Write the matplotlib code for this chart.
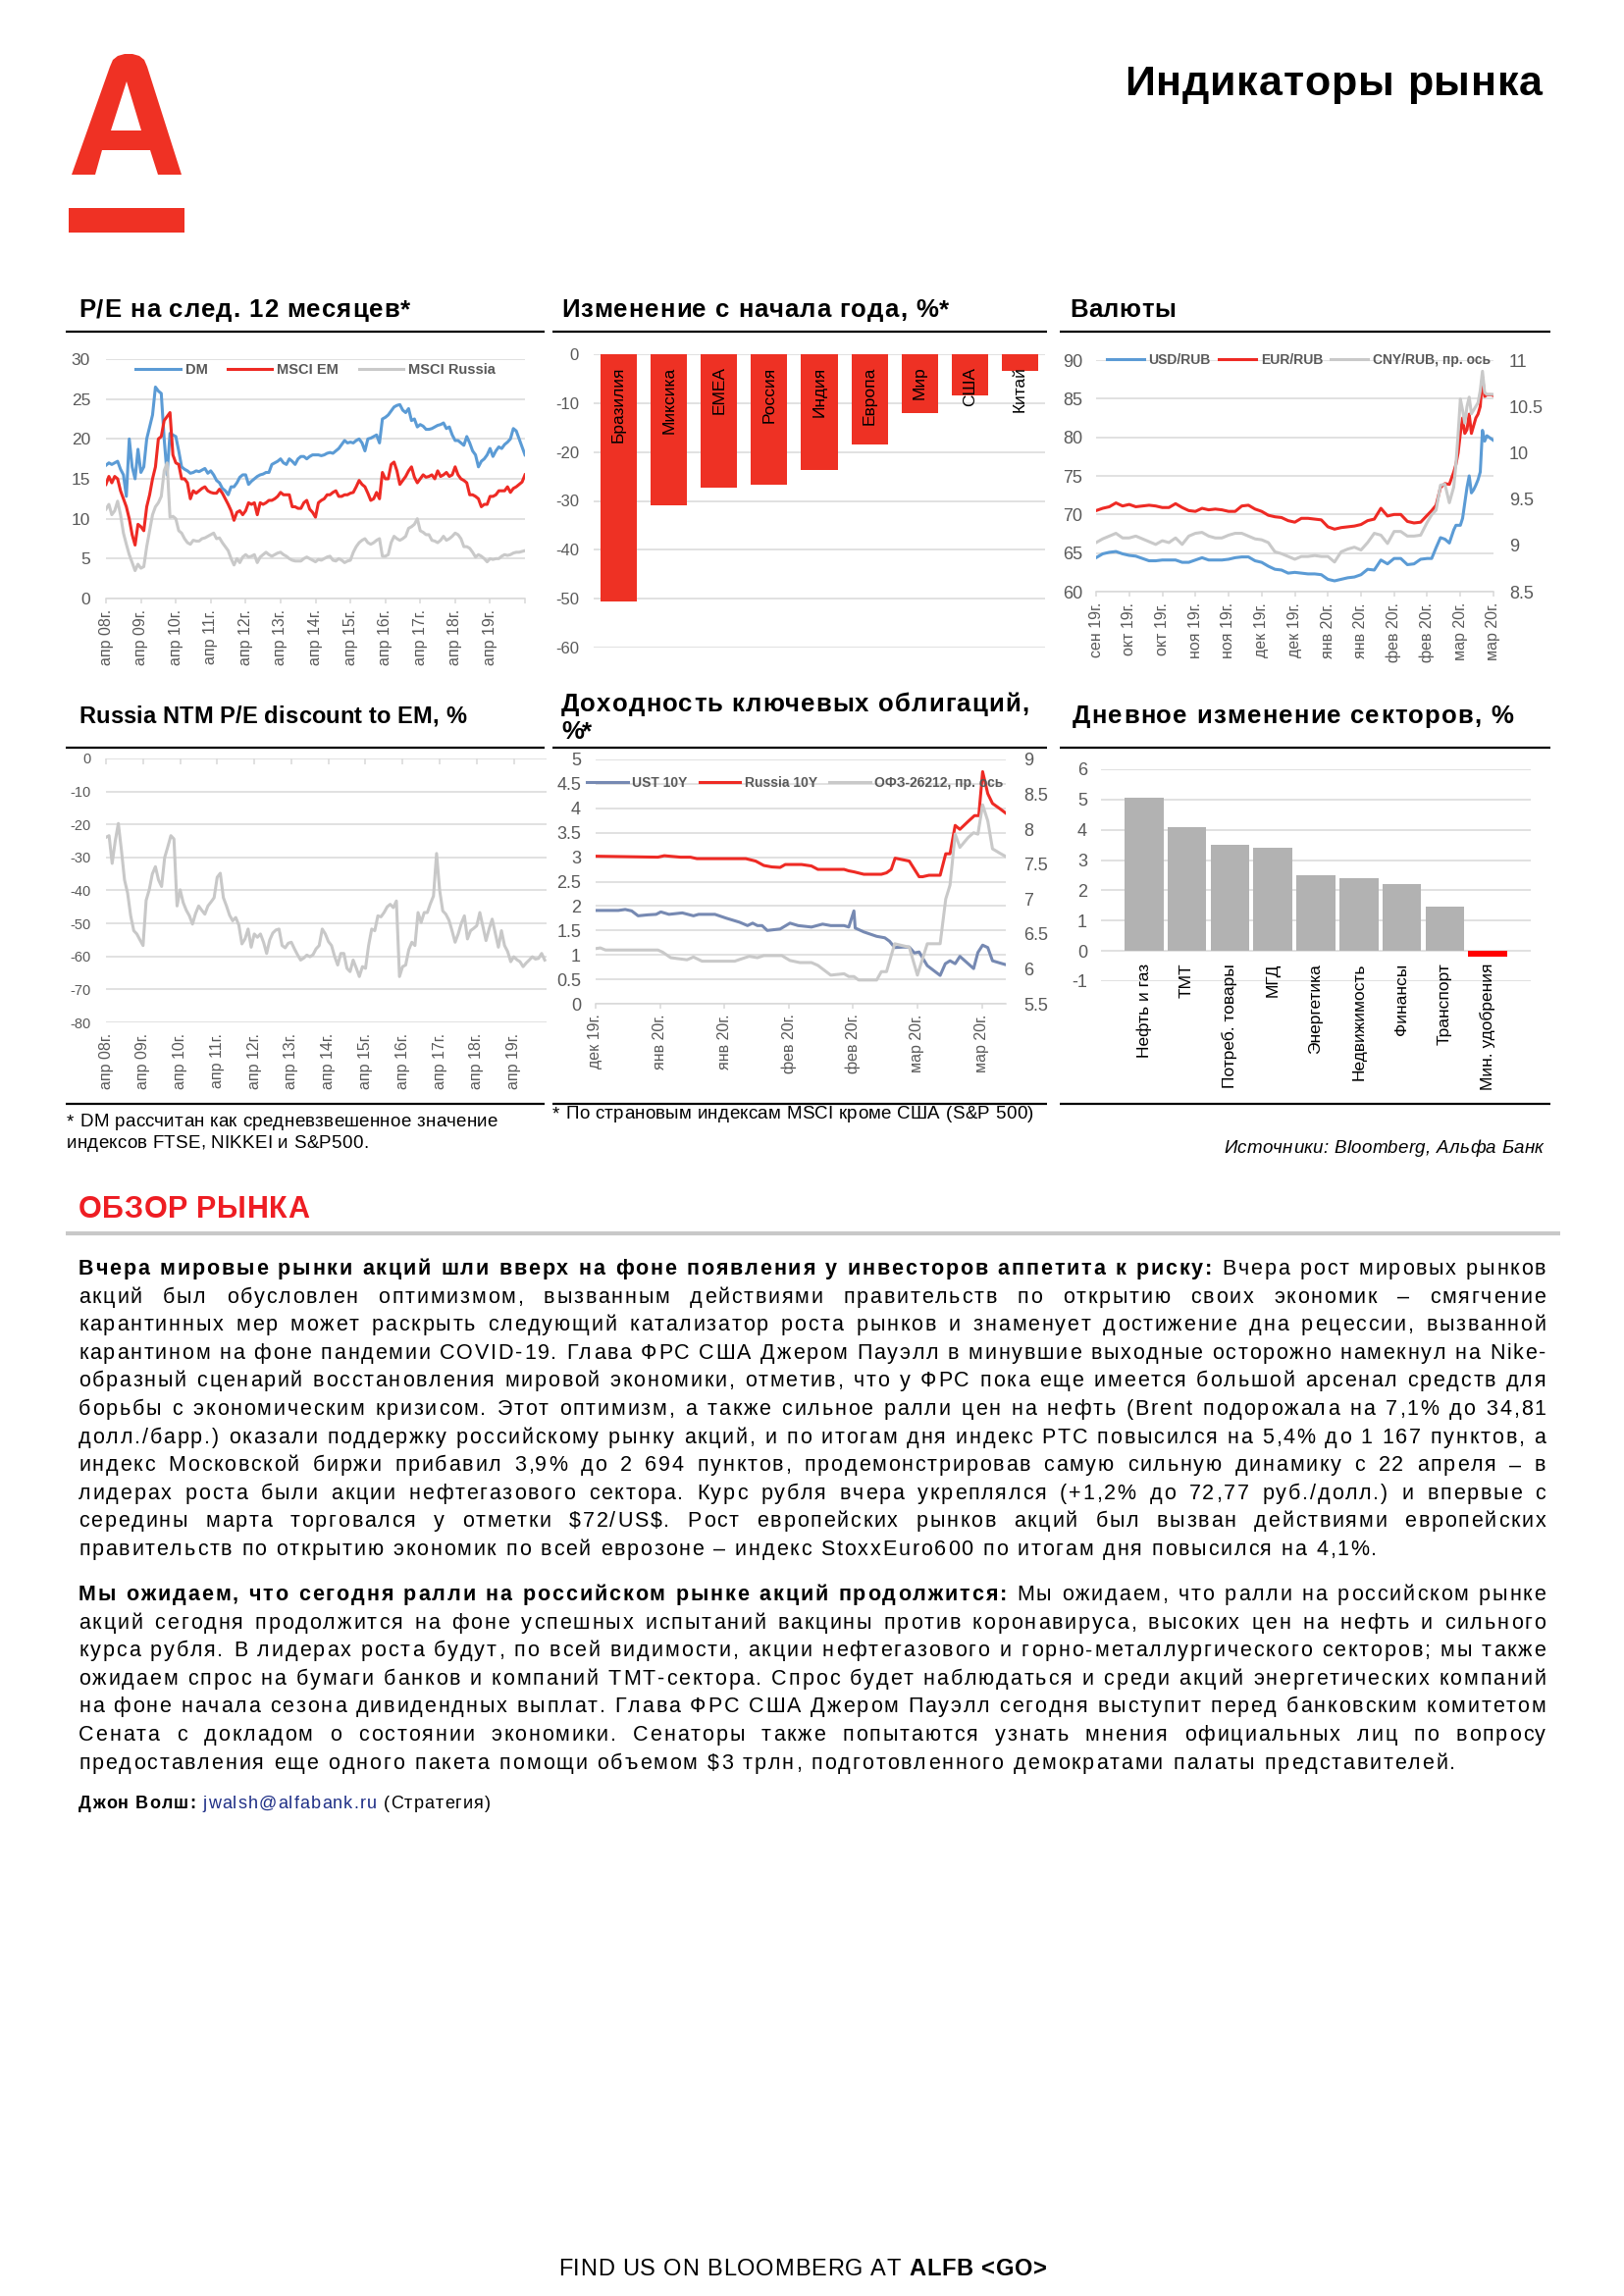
import numpy as np
import matplotlib
matplotlib.use('Agg')
import matplotlib.pyplot as plt
from matplotlib.font_manager import FontProperties
from matplotlib.lines import Line2D
from matplotlib.patches import Polygon, Rectangle
from matplotlib.ticker import FuncFormatter

plt.rcParams['font.family'] = ['Liberation Sans', 'DejaVu Sans']
plt.rcParams['axes.unicode_minus'] = False

# ---------------------------------------------------------------- data
PE_XLABELS = ['апр 08г.', 'апр 09г.', 'апр 10г.', 'апр 11г.', 'апр 12г.', 'апр 13г.',
              'апр 14г.', 'апр 15г.', 'апр 16г.', 'апр 17г.', 'апр 18г.', 'апр 19г.']
PE_DM = [16.7, 17.0, 16.8, 17.0, 17.2, 16.2, 15.5, 12.8, 20.0, 16.5, 15.0, 18.7,
         15.8, 16.5, 20.0, 21.5, 23.0, 26.5, 26.0, 25.7, 20.0, 15.5, 20.7, 20.5,
         20.3, 18.5, 16.5, 16.2, 16.0, 15.7, 15.8, 16.0, 15.9, 16.1, 16.3, 15.7,
         16.0, 15.5, 14.8, 14.5, 13.8, 13.5, 13.0, 14.0, 14.0, 14.5, 15.2, 15.5,
         15.5, 14.3, 14.7, 15.0, 15.3, 15.5, 15.6, 15.8, 15.8, 16.8, 17.0, 17.2,
         17.5, 17.0, 16.8, 17.5, 17.2, 16.8, 17.5, 17.8, 17.8, 17.5, 17.8, 18.0,
         18.0, 18.0, 17.9, 18.0, 18.2, 18.3, 18.2, 18.5, 18.8, 19.3, 19.8, 19.5,
         19.6, 19.5, 19.8, 20.0, 19.5, 18.5, 20.0, 20.1, 20.3, 20.5, 19.5, 22.5,
         22.7, 23.0, 23.5, 24.0, 24.2, 24.3, 23.6, 23.3, 23.8, 22.3, 22.5, 21.5,
         21.8, 21.6, 21.2, 21.2, 21.3, 21.5, 21.7, 21.8, 22.0, 21.3, 21.5, 20.5,
         19.8, 19.8, 19.5, 19.2, 20.3, 19.5, 18.5, 18.0, 16.5, 17.2, 17.5, 18.0,
         18.8, 17.8, 18.5, 19.0, 18.8, 19.3, 19.6, 20.0, 21.3, 21.0, 20.0, 19.0, 18.0]
PE_EM = [14.3, 15.3, 14.5, 15.3, 15.0, 13.5, 12.5, 11.5, 10.0, 8.0, 6.7, 9.3,
         9.0, 8.5, 11.5, 13.0, 15.0, 16.5, 20.0, 20.3, 22.3, 22.8, 23.3, 18.0,
         17.0, 16.8, 15.0, 15.0, 14.5, 12.5, 13.5, 13.2, 13.5, 13.8, 14.0, 13.5,
         13.3, 13.2, 13.2, 13.7, 13.2, 12.5, 11.8, 11.0, 9.8, 10.8, 11.0, 10.5,
         11.0, 12.0, 11.8, 12.0, 10.5, 12.0, 11.8, 12.0, 12.3, 12.3, 12.5, 12.8,
         13.3, 13.0, 13.0, 13.0, 11.5, 11.5, 11.3, 11.3, 12.0, 12.3, 11.2, 10.8,
         10.2, 12.0, 12.3, 12.5, 13.0, 13.0, 13.3, 13.5, 12.8, 12.8, 13.0, 13.0,
         13.2, 13.3, 14.0, 14.8, 14.3, 14.0, 13.2, 12.3, 12.5, 13.3, 12.5, 15.8,
         15.0, 15.0, 16.8, 17.1, 16.0, 14.3, 14.8, 15.3, 16.0, 16.5, 15.2, 14.5,
         15.0, 15.5, 15.2, 15.3, 15.5, 15.0, 16.0, 15.3, 15.5, 15.8, 15.3, 15.5,
         16.5, 15.5, 15.0, 14.8, 14.5, 13.0, 13.0, 12.8, 12.5, 11.5, 11.8, 11.8,
         12.8, 12.8, 13.0, 13.5, 13.5, 13.5, 14.0, 13.3, 13.8, 14.0, 14.3, 14.6, 15.5]
PE_RU = [11.2, 11.8, 10.5, 11.0, 12.2, 10.5, 8.2, 6.8, 5.5, 4.5, 3.5, 4.3,
         3.8, 4.0, 6.5, 8.5, 10.5, 11.5, 12.0, 12.8, 16.0, 17.0, 10.2, 10.3,
         10.0, 8.5, 8.2, 7.5, 7.0, 6.8, 7.3, 7.2, 7.2, 7.5, 7.6, 7.8,
         8.0, 8.2, 7.5, 7.6, 7.0, 6.5, 6.0, 5.0, 4.2, 5.0, 4.5, 5.2,
         5.5, 5.2, 5.3, 5.5, 4.5, 5.2, 5.5, 5.8, 5.5, 5.3, 5.5, 5.7,
         5.8, 5.5, 5.3, 5.0, 4.8, 4.7, 4.7, 4.7, 5.0, 5.2, 5.0, 4.8,
         4.6, 4.9, 4.8, 5.0, 5.2, 5.3, 4.8, 4.7, 5.0, 4.8, 4.5, 4.7,
         4.8, 5.8, 6.5, 7.0, 7.3, 7.5, 7.0, 6.8, 7.0, 7.3, 7.5, 5.3,
         5.3, 5.5, 7.0, 7.8, 7.5, 7.3, 7.5, 7.8, 8.8, 9.0, 9.3, 10.0,
         8.5, 8.3, 8.0, 8.0, 7.3, 7.2, 7.0, 7.3, 7.8, 7.3, 7.5, 7.8,
         8.2, 8.0, 7.5, 6.5, 6.5, 6.3, 5.8, 5.2, 5.5, 5.3, 5.0, 4.6,
         5.0, 4.9, 5.0, 5.0, 5.3, 5.5, 5.4, 5.5, 5.7, 5.8, 5.8, 5.9, 6.0]

DISC = [-23.9, -23.4, -31.8, -25.0, -19.7, -27.8, -36.8, -40.8, -47.7, -52.2, -53.2, -55.0,
        -56.7, -43.0, -39.8, -35.0, -32.8, -36.8, -38.8, -30.0, -26.8, -23.4, -24.4, -44.7,
        -39.8, -43.7, -46.0, -47.7, -50.2, -47.0, -44.7, -46.0, -47.2, -44.7, -43.5, -42.2,
        -36.0, -34.8, -42.2, -44.7, -47.5, -49.2, -48.2, -50.5, -56.2, -54.7, -51.7, -57.2,
        -53.2, -54.2, -53.2, -55.7, -59.1, -55.0, -52.9, -52.0, -51.7, -56.7, -57.4, -56.0,
        -55.7, -57.7, -59.5, -61.1, -60.5, -59.6, -60.1, -59.5, -57.7, -56.7, -51.7, -53.2,
        -55.5, -56.7, -60.0, -62.6, -59.1, -59.1, -63.6, -64.6, -61.1, -63.5, -66.1, -63.1,
        -63.6, -56.7, -51.7, -52.2, -47.7, -48.0, -46.7, -45.0, -44.2, -45.2, -43.2, -66.1,
        -63.1, -62.6, -58.0, -55.7, -56.7, -46.7, -49.7, -46.7, -46.7, -44.0, -41.7, -28.8,
        -40.0, -46.2, -47.2, -49.0, -52.2, -55.7, -53.2, -50.0, -47.7, -54.7, -52.2, -51.5,
        -50.7, -46.7, -51.0, -55.2, -51.7, -48.7, -53.0, -57.2, -52.2, -56.7, -58.5, -61.6,
        -60.1, -61.0, -61.6, -63.1, -62.0, -61.1, -60.1, -60.8, -60.6, -59.1, -61.1]

YTD_CATS = ['Бразилия', 'Миксика', 'EMEA', 'Россия', 'Индия', 'Европа', 'Мир', 'США', 'Китай']
YTD_VALS = [-50.5, -31.0, -27.3, -26.6, -23.7, -18.5, -12.1, -8.4, -3.5]

FX_XLABELS = ['сен 19г.', 'окт 19г.', 'окт 19г.', 'ноя 19г.', 'ноя 19г.', 'дек 19г.', 'дек 19г.',
              'янв 20г.', 'янв 20г.', 'фев 20г.', 'фев 20г.', 'мар 20г.', 'мар 20г.']
FX_DAYS = [0, 3, 6, 9, 12, 15, 18, 21, 24, 27, 30, 33, 36, 39, 42, 45, 48, 51, 54, 57, 60,
           63, 66, 69, 72, 75, 78, 81, 84, 87, 90, 93, 96, 99, 102, 105, 108, 111, 114, 117,
           120, 123, 126, 129, 132, 135, 138, 141, 144, 147, 150,
           152, 154, 156, 158, 160, 162,
           163, 164, 165, 166, 167, 168, 169, 170, 171, 172, 173, 174, 175, 176, 177, 178, 179, 180]
USD_RUB = [64.4, 64.9, 65.1, 65.2, 64.9, 64.7, 64.6, 64.3, 64.0, 64.0, 64.1,
           64.1, 64.1, 63.8, 63.8, 64.1, 64.4, 64.1, 64.1, 64.1, 64.2, 64.4,
           64.5, 64.5, 64.0, 63.8, 63.3, 62.9, 62.8, 62.4, 62.5, 62.4, 62.3,
           62.3, 62.2, 61.6, 61.4, 61.6, 61.8, 61.9, 62.2, 62.9, 62.8, 64.1,
           63.6, 64.3, 64.3, 63.5, 63.6, 64.2, 64.3,
           64.3, 65.7, 67.0, 66.8, 66.3, 68.0,
           68.6, 68.6, 68.6, 69.5, 71.5, 73.5, 75.0, 72.8, 73.2, 73.8, 74.5, 75.5,
           80.9, 79.5, 80.2, 80.0, 79.8, 79.6]
EUR_RUB = [70.5, 70.8, 71.0, 71.5, 71.1, 71.3, 71.0, 71.1, 71.2, 71.1, 70.9,
           70.9, 71.4, 70.9, 70.5, 70.4, 70.8, 70.6, 70.7, 70.6, 70.4, 70.4,
           71.1, 71.2, 70.7, 70.4, 69.9, 69.7, 69.6, 69.2, 69.0, 69.5, 69.5,
           69.4, 69.3, 68.4, 68.1, 68.3, 68.4, 68.5, 68.7, 69.2, 69.4, 70.8,
           69.8, 70.0, 70.0, 69.1, 68.9, 69.0, 69.9,
           70.5, 71.2, 73.5, 74.0, 73.9, 75.5,
           76.5, 78.0, 80.5, 82.5, 80.5, 81.0, 83.0, 80.5, 81.5, 82.5, 83.0, 84.0,
           87.8, 85.3, 85.5, 85.5, 85.5, 85.4]
CNY_RUB = [9.03, 9.07, 9.10, 9.13, 9.08, 9.08, 9.10, 9.07, 9.04, 9.01, 9.05,
           9.03, 9.08, 9.01, 9.10, 9.13, 9.14, 9.10, 9.08, 9.08, 9.11, 9.13,
           9.13, 9.10, 9.07, 9.06, 9.03, 8.93, 8.91, 8.88, 8.85, 8.88, 8.88,
           8.89, 8.88, 8.88, 8.82, 8.93, 8.96, 8.98, 8.95, 9.03, 9.13, 9.11,
           9.02, 9.15, 9.15, 9.10, 9.10, 9.11, 9.25,
           9.33, 9.38, 9.65, 9.66, 9.46, 9.63,
           9.88, 10.21, 10.58, 10.46, 10.32, 10.50, 10.60, 10.42, 10.46, 10.50, 10.54, 10.67,
           10.88, 10.65, 10.63, 10.63, 10.63, 10.63]

BOND_XLABELS = ['дек 19г.', 'янв 20г.', 'янв 20г.', 'фев 20г.', 'фев 20г.', 'мар 20г.', 'мар 20г.']
RU10_DAYS = [0, 14.5, 16, 19.8, 22.1, 23.6, 35, 37.3, 39.2, 41.1, 43, 44.2, 48, 50.3, 51.8,
             57.9, 59, 60.2, 62.5, 66.6, 67.8, 68.9, 69.8, 73.1, 75.4, 76.2, 77.7, 80.3,
             81.6, 82.6, 83.8, 84.9, 86.8, 88.3, 89.3, 90.2, 91.4, 92.5, 94.4, 95.6]
RU10_VALS = [3.02, 3.0, 3.03, 3.0, 3.0, 2.97, 2.97, 2.92, 2.83, 2.80, 2.79, 2.85, 2.85, 2.82, 2.75,
             2.75, 2.72, 2.70, 2.65, 2.65, 2.68, 2.75, 2.98, 2.92, 2.60, 2.60, 2.63, 2.63,
             3.07, 3.07, 3.65, 3.57, 3.73, 3.85, 3.85, 4.75, 4.30, 4.10, 3.98, 3.90]
UST_DAYS = [0, 5.3, 6.9, 8.4, 9.9, 12.2, 14.1, 15.2, 17.1, 20.2, 22.8, 24, 27.8, 30.5, 33.5,
            35.4, 36.6, 37.7, 38.8, 40, 43, 45.3, 47.2, 50.3, 52.9, 54.8, 57.9, 59, 60.2,
            60.5, 62.5, 65.5, 67.4, 68.5, 69.7, 71.6, 73.1, 74.3, 75.4, 77.3, 80.3, 81.5,
            82.6, 83.8, 84.9, 88.1, 89.1, 90.2, 91.4, 92.5, 94.4, 95.6]
UST_VALS = [1.91, 1.91, 1.93, 1.90, 1.80, 1.82, 1.83, 1.88, 1.83, 1.86, 1.80, 1.83, 1.83, 1.75, 1.67,
            1.60, 1.65, 1.60, 1.60, 1.50, 1.53, 1.65, 1.60, 1.57, 1.63, 1.60, 1.60, 1.57, 1.90,
            1.55, 1.47, 1.38, 1.35, 1.28, 1.15, 1.16, 1.16, 1.04, 1.06, 0.78, 0.58, 0.82,
            0.88, 0.82, 0.97, 0.72, 1.05, 1.20, 1.15, 0.88, 0.83, 0.80]
OFZ_DAYS = [0, 1.1, 2.3, 14.5, 15.6, 17.5, 21.3, 22.8, 24.8, 32.4, 35.8, 37.7, 39.2, 43.4, 45.3,
            47.6, 50.3, 51.8, 54.8, 57.9, 59, 60.2, 61.3, 65.5, 66.6, 67.8, 69.7, 73.1, 75,
            77.3, 80.3, 81.6, 82.6, 83.8, 84.9, 86.8, 88.1, 89.1, 90.2, 91.4, 92.5, 94.4, 95.6]
OFZ_VALS = [6.29, 6.30, 6.27, 6.27, 6.24, 6.16, 6.13, 6.17, 6.11, 6.11, 6.18, 6.16, 6.19, 6.19, 6.12,
            6.09, 6.09, 6.05, 5.91, 5.93, 5.89, 5.89, 5.84, 5.84, 5.96, 5.96, 6.36, 6.31, 5.91,
            6.36, 6.36, 7.00, 7.20, 7.93, 7.74, 7.88, 7.95, 7.93, 8.35, 8.12, 7.72, 7.65, 7.61]

SECT_CATS = ['Нефть и газ', 'ТМТ', 'Потреб. товары', 'МГД', 'Энергетика', 'Недвижимость',
             'Финансы', 'Транспорт', 'Мин. удобрения']
SECT_VALS = [5.05, 4.1, 3.52, 3.42, 2.5, 2.4, 2.2, 1.45, -0.2]

# ---------------------------------------------------------------- style
W, H, DPI = 1655, 2340, 100
GRID = '#D9D9D9'
TICK = '#595959'
LRED = '#EE2A24'
BARRED = '#EE3124'
BLUE = '#5B9BD5'
LGRAY = '#C9C9C9'
UST = '#7689B2'
SGRAY = '#B2B2B2'
LOGO = '#EF3124'
FAM = ['Liberation Sans', 'DejaVu Sans']


def FP(size, weight='normal', style='normal'):
    return FontProperties(family=FAM, size=size, weight=weight, style=style)


fig = plt.figure(figsize=(W / DPI, H / DPI), dpi=DPI)
deco = fig.add_axes([0, 0, 1, 1])
deco.set_xlim(0, W)
deco.set_ylim(H, 0)
deco.axis('off')
RENDERER = fig.canvas.get_renderer()


def px_axes(x0, y0, x1, y1):
    ax = fig.add_axes([x0 / W, 1 - y1 / H, (x1 - x0) / W, (y1 - y0) / H])
    ax.set_facecolor('none')
    return ax


def base_style(ax, ysize, ypad_px):
    for s in ax.spines.values():
        s.set_visible(False)
    ax.grid(axis='y', color=GRID, lw=1.1)
    ax.set_axisbelow(True)
    ax.tick_params(axis='y', length=0, pad=ypad_px / 1.389, labelsize=ysize, labelcolor=TICK)


def bottom_axis(ax, pad=4.5):
    ax.spines['bottom'].set_visible(True)
    ax.spines['bottom'].set_color(GRID)
    ax.spines['bottom'].set_linewidth(1.1)
    ax.tick_params(axis='x', length=3.5, width=1.1, color=GRID, pad=pad, labelsize=11.5,
                   labelcolor=TICK, labelrotation=90)


gfmt = FuncFormatter(lambda v, p: f'{v:g}')
LEGFP = FP(10.5, 'bold')

# ---------------------------------------------------------------- text helpers
_adv = {}


def adv(ch, fp):
    key = (ch, str(fp.get_weight()), fp.get_style(), fp.get_size_in_points())
    if key not in _adv:
        a = RENDERER.get_text_width_height_descent('|' + ch + '|', fp, False)[0]
        b = RENDERER.get_text_width_height_descent('||', fp, False)[0]
        _adv[key] = a - b
    return _adv[key]


def expand(segs):
    out = []
    for seg in segs:
        text, fp = seg[0], seg[1]
        col = seg[2] if len(seg) > 2 else 'black'
        for ch in text:
            out.append((ch, fp, col))
    return out


def natural(chars):
    return sum(adv(c, fp) for c, fp, col in chars)


def draw_run(chars, x, y, track, space_extra=0.0):
    for c, fp, col in chars:
        if c != ' ':
            deco.text(x, y, c, fontproperties=fp, color=col, ha='left', va='baseline',
                      parse_math=False)
        x += adv(c, fp) + track + (space_extra if c == ' ' else 0.0)
    return x


def fit_text(segs, x0, x1, y):
    chars = expand(segs)
    nat = natural(chars)
    track = (x1 - x0 - nat) / max(len(chars) - 1, 1)
    draw_run(chars, x0, y, track)


def paragraph(lines, x0, x1, y0, lh, last_x1):
    rows = [expand(l) for l in lines]
    nats = [natural(r) for r in rows]
    T = min((x1 - x0 - n) / len(r) for r, n in zip(rows[:-1], nats[:-1]))
    for i, (r, n) in enumerate(zip(rows, nats)):
        target = (x1 if i < len(rows) - 1 else last_x1) - x0
        nsp = sum(1 for c in r if c[0] == ' ')
        extra = (target - n - T * len(r)) / max(nsp, 1)
        draw_run(r, x0, y0 + i * lh, T, extra)


# ---------------------------------------------------------------- header
A_OUT = [(73, 178), (112, 68), (115, 61), (120, 57), (127, 55), (135, 55), (142, 57),
         (147, 61), (150, 68), (185, 178), (161, 178), (153, 153), (104, 153), (97, 178)]
A_IN = [(129, 83), (144, 133), (113, 133)]
deco.add_patch(Polygon(A_OUT, closed=True, fc=LOGO, ec='none'))
deco.add_patch(Polygon(A_IN, closed=True, fc='white', ec='none'))
deco.add_patch(Rectangle((70, 212), 118, 25, fc=LOGO, ec='none'))
fit_text([('Индикаторы рынка', FP(31, 'bold'))], 1146, 1572, 97)

# section titles and rules
TFP = FP(18.5, 'bold')
fit_text([('P/E на след. 12 месяцев*', TFP)], 80, 418, 323)
fit_text([('Изменение с начала года, %*', TFP)], 572, 967, 323)
fit_text([('Валюты', TFP)], 1090, 1198, 323)
fit_text([('Russia NTM P/E discount to EM, %', FP(17, 'bold'))], 80, 475, 737)
fit_text([('Доходность ключевых облигаций,', TFP)], 572, 1048, 725)
fit_text([('%*', TFP)], 572, 603, 753)
fit_text([('Дневное изменение секторов, %', TFP)], 1093, 1542, 737)

for yy in (338, 762, 1125):
    for xa, xb in ((67, 555), (563, 1067), (1080, 1580)):
        deco.plot([xa, xb], [yy, yy], color='black', lw=1.6, solid_capstyle='butt')

fit_text([('* DM рассчитан как средневзвешенное значение', FP(13.5))], 68, 507, 1148)
fit_text([('индексов FTSE, NIKKEI и S&P500.', FP(13.5))], 68, 375, 1170)
fit_text([('* По страновым индексам MSCI кроме США (S&P 500)', FP(13.5))], 563, 1053, 1140)
fit_text([('Источники: Bloomberg, Альфа Банк', FP(13.5, style='italic'))], 1247, 1573, 1175)

# ---------------------------------------------------------------- chart 1: P/E
ax1 = px_axes(108, 366, 535, 610)
base_style(ax1, 12.5, 16)
bottom_axis(ax1)
ax1.plot(np.arange(len(PE_DM)), PE_DM, color=BLUE, lw=2.2, label='DM')
ax1.plot(np.arange(len(PE_EM)), PE_EM, color=LRED, lw=2.2, label='MSCI EM')
ax1.plot(np.arange(len(PE_RU)), PE_RU, color=LGRAY, lw=2.2, label='MSCI Russia')
ax1.set_xlim(0, len(PE_DM) - 1)
ax1.set_ylim(0, 30)
ax1.set_yticks(np.arange(0, 31, 5))
ax1.set_xticks(np.arange(0, 12 * (len(PE_XLABELS) + 1), 12))
ax1.set_xticklabels(PE_XLABELS + [''])
ax1.legend(loc='center', bbox_to_anchor=(0.5, 0.955), ncol=3, frameon=False,
           handlelength=3.1, handletextpad=0.35, columnspacing=1.4, prop=LEGFP,
           labelcolor=TICK, borderaxespad=0, borderpad=0)

# ---------------------------------------------------------------- chart 2: YTD
ax2 = px_axes(605, 361, 1065, 660)
base_style(ax2, 12, 15)
ax2.bar(np.arange(len(YTD_VALS)), YTD_VALS, width=0.725, color=BARRED)
ax2.set_xlim(-0.5, len(YTD_VALS) - 0.5)
ax2.set_ylim(-60, 0)
ax2.set_yticks(np.arange(-60, 1, 10))
ax2.set_xticks([])
for i, lab in enumerate(YTD_CATS):
    ax2.annotate(lab, xy=(i, 0), xytext=(0, -9), textcoords='offset points', rotation=90,
                 ha='center', va='top', fontsize=12.5, color='black')

# ---------------------------------------------------------------- chart 3: FX
ax3 = px_axes(1117, 367, 1522, 603)
base_style(ax3, 13, 14)
bottom_axis(ax3)
l_usd, = ax3.plot(FX_DAYS, USD_RUB, color=BLUE, lw=2.2)
l_eur, = ax3.plot(FX_DAYS, EUR_RUB, color=LRED, lw=2.2)
ax3.set_ylim(60, 90)
ax3.set_yticks(np.arange(60, 91, 5))
ax3.set_xlim(0, 15 * (len(FX_XLABELS) - 1))
ax3.set_xticks(np.arange(0, 15 * len(FX_XLABELS), 15))
ax3.set_xticklabels(FX_XLABELS)
ax3b = ax3.twinx()
for s in ax3b.spines.values():
    s.set_visible(False)
l_cny, = ax3b.plot(FX_DAYS, CNY_RUB, color=LGRAY, lw=2.2)
ax3b.set_ylim(8.5, 11)
ax3b.set_yticks(np.arange(8.5, 11.01, 0.5))
ax3b.yaxis.set_major_formatter(gfmt)
ax3b.tick_params(axis='y', length=0, pad=16 / 1.389, labelsize=13, labelcolor=TICK)
ax3b.legend([l_usd, l_eur, l_cny], ['USD/RUB', 'EUR/RUB', 'CNY/RUB, пр. ось'], loc='center',
            bbox_to_anchor=(0.51, 1.0), ncol=3, frameon=False, handlelength=2.7,
            handletextpad=0.35, columnspacing=0.6, prop=FP(10, 'bold'), labelcolor=TICK,
            borderaxespad=0, borderpad=0)

# ---------------------------------------------------------------- chart 4: discount
ax4 = px_axes(108, 773, 557, 1042)
base_style(ax4, 10.5, 15)
ax4.plot(np.arange(len(DISC)), DISC, color='#C8C8C8', lw=2.2)
ax4.set_xlim(0, len(DISC) - 0.4)
ax4.set_ylim(-80, 0)
ax4.set_yticks(np.arange(-80, 1, 10))
ax4.set_xticks(np.arange(0, 12 * len(PE_XLABELS), 12))
ax4.set_xticklabels(PE_XLABELS)
ax4.xaxis.set_ticks_position('top')
ax4.tick_params(axis='x', top=True, bottom=False, labeltop=False, labelbottom=True,
                direction='in', length=4, width=1.1, color=GRID, labelrotation=90,
                labelsize=11.5, labelcolor=TICK, pad=8)

# ---------------------------------------------------------------- chart 5: bonds
ax5 = px_axes(607, 774, 1025, 1023)
base_style(ax5, 13, 15)
bottom_axis(ax5, pad=4)
l_ust, = ax5.plot(UST_DAYS, UST_VALS, color=UST, lw=2.2)
l_ru, = ax5.plot(RU10_DAYS, RU10_VALS, color=LRED, lw=2.2)
ax5.set_ylim(0, 5)
ax5.set_yticks(np.arange(0, 5.01, 0.5))
ax5.yaxis.set_major_formatter(gfmt)
ax5.set_xlim(0, max(UST_DAYS))
ax5.set_xticks(np.arange(0, 15 * len(BOND_XLABELS), 15))
ax5.set_xticklabels(BOND_XLABELS)
ax5b = ax5.twinx()
for s in ax5b.spines.values():
    s.set_visible(False)
l_ofz, = ax5b.plot(OFZ_DAYS, OFZ_VALS, color=LGRAY, lw=2.2)
ax5b.set_ylim(5.5, 9)
ax5b.set_yticks(np.arange(5.5, 9.01, 0.5))
ax5b.yaxis.set_major_formatter(gfmt)
ax5b.tick_params(axis='y', length=0, pad=18 / 1.389, labelsize=13, labelcolor=TICK)
ax5b.legend([l_ust, l_ru, l_ofz], ['UST 10Y', 'Russia 10Y', 'ОФЗ-26212, пр. ось'], loc='center',
            bbox_to_anchor=(0.486, 0.904), ncol=3, frameon=False, handlelength=3.0,
            handletextpad=0.3, columnspacing=0.9, prop=FP(10, 'bold'), labelcolor=TICK,
            borderaxespad=0, borderpad=0)

# ---------------------------------------------------------------- chart 6: sectors
ax6 = px_axes(1122, 784, 1560, 1000)
base_style(ax6, 13, 14)
ax6.bar(np.arange(len(SECT_VALS)), SECT_VALS, width=0.9,
        color=['#FF0000' if v < 0 else SGRAY for v in SECT_VALS])
ax6.set_xlim(-1, len(SECT_VALS))
ax6.set_ylim(-1, 6)
ax6.set_yticks(np.arange(-1, 7, 1))
ax6.set_xticks([])
for i, lab in enumerate(SECT_CATS):
    ax6.annotate(lab, xy=(i, 0), xytext=(0, -9), textcoords='offset points', rotation=90,
                 ha='center', va='top', fontsize=12.5, color='black')

# ---------------------------------------------------------------- market review
fit_text([('ОБЗОР РЫНКА', FP(22, 'bold'), '#EE1D23')], 80, 315, 1241)
deco.plot([67, 1590], [1257, 1257], color='#C8C8C8', lw=3, solid_capstyle='butt')

RB = FP(15.5)
BB = FP(15.5, 'bold')
PARA1 = [
    [('Вчера мировые рынки акций шли вверх на фоне появления у инвесторов аппетита к риску:', BB),
     (' Вчера рост мировых рынков', RB)],
    [('акций был обусловлен оптимизмом, вызванным действиями правительств по открытию своих экономик – смягчение', RB)],
    [('карантинных мер может раскрыть следующий катализатор роста рынков и знаменует достижение дна рецессии, вызванной', RB)],
    [('карантином на фоне пандемии COVID-19. Глава ФРС США Джером Пауэлл в минувшие выходные осторожно намекнул на Nike-', RB)],
    [('образный сценарий восстановления мировой экономики, отметив, что у ФРС пока еще имеется большой арсенал средств для', RB)],
    [('борьбы с экономическим кризисом. Этот оптимизм, а также сильное ралли цен на нефть (Brent подорожала на 7,1% до 34,81', RB)],
    [('долл./барр.) оказали поддержку российскому рынку акций, и по итогам дня индекс РТС повысился на 5,4% до 1 167 пунктов, а', RB)],
    [('индекс Московской биржи прибавил 3,9% до 2 694 пунктов, продемонстрировав самую сильную динамику с 22 апреля – в', RB)],
    [('лидерах роста были акции нефтегазового сектора. Курс рубля вчера укреплялся (+1,2% до 72,77 руб./долл.) и впервые с', RB)],
    [('середины марта торговался у отметки $72/US$. Рост европейских рынков акций был вызван действиями европейских', RB)],
    [('правительств по открытию экономик по всей еврозоне – индекс StoxxEuro600 по итогам дня повысился на 4,1%.', RB)],
]
PARA2 = [
    [('Мы ожидаем, что сегодня ралли на российском рынке акций продолжится:', BB),
     (' Мы ожидаем, что ралли на российском рынке', RB)],
    [('акций сегодня продолжится на фоне успешных испытаний вакцины против коронавируса, высоких цен на нефть и сильного', RB)],
    [('курса рубля. В лидерах роста будут, по всей видимости, акции нефтегазового и горно-металлургического секторов; мы также', RB)],
    [('ожидаем спрос на бумаги банков и компаний ТМТ-сектора. Спрос будет наблюдаться и среди акций энергетических компаний', RB)],
    [('на фоне начала сезона дивидендных выплат. Глава ФРС США Джером Пауэлл сегодня выступит перед банковским комитетом', RB)],
    [('Сената с докладом о состоянии экономики. Сенаторы также попытаются узнать мнения официальных лиц по вопросу', RB)],
    [('предоставления еще одного пакета помощи объемом $3 трлн, подготовленного демократами палаты представителей.', RB)],
]
paragraph(PARA1, 80, 1577, 1299, 28.6, 1405)
paragraph(PARA2, 80, 1577, 1631, 28.6, 1485)

fit_text([('Джон Волш:', FP(13, 'bold')), (' jwalsh@alfabank.ru', FP(13), '#1F2F86'),
          (' (Стратегия)', FP(13))], 80, 500, 1843)

fit_text([('FIND US ON BLOOMBERG AT ', FP(17)), ('ALFB <GO>', FP(17, 'bold'))], 569, 1067, 2319)

fig.savefig('out.png', dpi=DPI, facecolor='white')
